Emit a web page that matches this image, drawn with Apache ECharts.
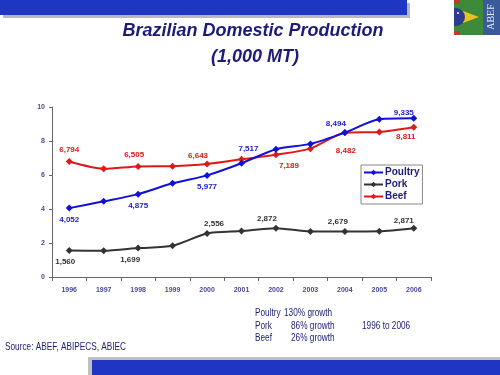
<!DOCTYPE html>
<html>
<head>
<meta charset="utf-8">
<script src="https://cdn.jsdelivr.net/npm/echarts@6/dist/echarts.min.js"></script>
<style>
  html, body { margin: 0; padding: 0; background: #fff; }
  #chart { width: 500px; height: 375px; }
</style>
</head>
<body>
<div id="chart"></div>
<script>
// production, 1,000 MT
var years = ['1996', '1997', '1998', '1999', '2000', '2001', '2002', '2003', '2004', '2005', '2006'];
var poultry = [4052, 4450, 4875, 5510, 5977, 6690, 7517, 7830, 8494, 9280, 9335];
var pork = [1560, 1540, 1699, 1840, 2556, 2700, 2872, 2680, 2679, 2690, 2871];
var beef = [6794, 6370, 6505, 6520, 6643, 6920, 7189, 7550, 8482, 8530, 8811];
var yTicks = [0, 2000, 4000, 6000, 8000, 10000];

var navy = '#1c1c78';
var tickColor = '#4a4a9a';

// which points get a value label, and where it sits
var poultryLabels = {
  0: {position: 'bottom'},
  2: {position: 'bottom'},
  4: {position: 'bottom'},
  6: {position: 'left', distance: 14},
  8: {position: 'top', offset: [-9, 3]},
  10: {position: 'top', offset: [-10, 6]}
};
var beefLabels = {
  0: {position: 'top'},
  2: {position: 'top', offset: [-4, 0]},
  4: {position: 'top', offset: [-9, 3]},
  6: {position: 'bottom', offset: [13, 0]},
  8: {position: 'bottom', offset: [1, 6]},
  10: {position: 'bottom', offset: [-8, -2]}
};
var porkLabels = {
  0: {position: 'bottom', offset: [-4, 0]},
  2: {position: 'bottom', offset: [-8, 0]},
  4: {position: 'top', offset: [7, 2]},
  6: {position: 'top', offset: [-9, 2]},
  8: {position: 'top', offset: [-7, 2]},
  10: {position: 'top', offset: [-10, 4]}
};

function fmt(v) {
  return v.toString().replace(/\B(?=(\d{3})+(?!\d))/g, ',');
}

function buildData(values, labels, color) {
  return values.map(function (v, i) {
    var item = {value: v};
    if (labels[i]) {
      item.label = Object.assign({
        show: true,
        color: color,
        fontSize: 8,
        fontWeight: 'bold',
        fontFamily: 'Liberation Sans, Arial',
        distance: 4,
        formatter: function (p) { return fmt(p.value); }
      }, labels[i]);
    }
    return item;
  });
}

function makeSeries(name, values, labels, color, labelColor) {
  return {
    name: name,
    type: 'line',
    smooth: 0.25,
    symbol: 'diamond',
    symbolSize: 7,
    lineStyle: {color: color, width: 2},
    itemStyle: {color: color},
    emphasis: {disabled: true},
    data: buildData(values, labels, labelColor),
    z: name === 'Poultry' ? 3 : 2
  };
}

// narrow-looking note text (the original uses a condensed face)
function note(text, x, y) {
  return {
    type: 'text', x: x, y: y, scaleX: 0.75, z: 5,
    style: {text: text, fill: navy, fontSize: 11, fontFamily: 'Liberation Sans, Arial', verticalAlign: 'middle'}
  };
}

var chart = echarts.init(document.getElementById('chart'), null, {renderer: 'canvas'});

var option = {
  animation: false,
  backgroundColor: '#ffffff',
  grid: {left: 52, right: 69, top: 107, bottom: 98},
  legend: {
    orient: 'vertical',
    left: 361,
    top: 165,
    itemWidth: 19,
    itemHeight: 7,
    itemGap: 1,
    padding: [2, 3, 2, 2],
    borderColor: '#888',
    borderWidth: 1,
    backgroundColor: '#fff',
    textStyle: {color: navy, fontSize: 10, lineHeight: 11, fontWeight: 'bold',
      fontFamily: 'Liberation Sans, Arial', padding: [0, 0, 0, -3]},
    data: ['Poultry', 'Pork', 'Beef']
  },
  xAxis: {
    type: 'category',
    data: years,
    boundaryGap: true,
    axisLine: {lineStyle: {color: '#666', width: 1}},
    axisTick: {show: true, length: 4, lineStyle: {color: '#666'}},
    axisLabel: {color: tickColor, fontSize: 7, fontWeight: 'bold', margin: 10, fontFamily: 'Liberation Sans, Arial'}
  },
  yAxis: {
    type: 'value',
    min: yTicks[0],
    max: yTicks[yTicks.length - 1],
    interval: yTicks[1] - yTicks[0],
    splitLine: {show: false},
    axisLine: {show: true, lineStyle: {color: '#666', width: 1}},
    axisTick: {show: true, length: 3, lineStyle: {color: '#666'}},
    axisLabel: {
      color: tickColor, fontSize: 7, fontWeight: 'bold', margin: 7, fontFamily: 'Liberation Sans, Arial',
      formatter: function (v) { return v / 1000; }
    }
  },
  series: [
    makeSeries('Poultry', poultry, poultryLabels, '#1010d8', '#1a1ad0'),
    makeSeries('Pork', pork, porkLabels, '#333333', '#333333'),
    makeSeries('Beef', beef, beefLabels, '#e01818', '#e01818')
  ],
  graphic: [
    // top banner with shadow
    {type: 'rect', shape: {x: 3, y: 3, width: 407, height: 15}, style: {fill: '#b8b8b8'}, z: 0},
    {type: 'rect', shape: {x: 0, y: 0, width: 407, height: 15}, style: {fill: '#1f35c4'}, z: 1},
    // bottom banner with shadow
    {type: 'rect', shape: {x: 88, y: 357, width: 412, height: 18}, style: {fill: '#c0c0c0'}, z: 0},
    {type: 'rect', shape: {x: 92, y: 360, width: 408, height: 15}, style: {fill: '#1f35c4'}, z: 1},
    // logo
    {type: 'rect', shape: {x: 454, y: 0, width: 29, height: 35}, style: {fill: '#3d8a3a'}, z: 1},
    {type: 'rect', shape: {x: 454, y: 0, width: 6, height: 4}, style: {fill: '#c23a2a'}, z: 2},
    {type: 'rect', shape: {x: 454, y: 31, width: 6, height: 4}, style: {fill: '#c23a2a'}, z: 2},
    {type: 'polygon', shape: {points: [[463, 11], [479, 17], [463, 23]]}, style: {fill: '#e8c020'}, z: 2},
    {type: 'circle', shape: {cx: 456, cy: 17, r: 9}, style: {fill: '#2d3c8c'}, z: 3,
      clipPath: {type: 'rect', shape: {x: 454, y: 0, width: 30, height: 35}}},
    {type: 'circle', shape: {cx: 458, cy: 13, r: 1}, style: {fill: '#ffffff'}, z: 4},
    {type: 'rect', shape: {x: 483, y: 0, width: 17, height: 35}, style: {fill: '#3a5a9a'}, z: 1},
    {type: 'text', x: 491, y: 17, rotation: Math.PI / 2, z: 2,
      style: {text: 'ABEF', fill: '#e8ecf4', fontSize: 10, fontFamily: 'Liberation Serif, serif', align: 'center', verticalAlign: 'middle'}},
    // title
    {type: 'text', x: 253, y: 31, z: 5,
      style: {text: 'Brazilian Domestic Production', fill: navy, fontSize: 18, fontWeight: 'bold', fontStyle: 'italic',
        fontFamily: 'Liberation Sans, Arial', align: 'center', verticalAlign: 'middle'}},
    {type: 'text', x: 255, y: 57, z: 5,
      style: {text: '(1,000 MT)', fill: navy, fontSize: 18, fontWeight: 'bold', fontStyle: 'italic',
        fontFamily: 'Liberation Sans, Arial', align: 'center', verticalAlign: 'middle'}},
    // growth notes
    note('Poultry', 255, 313),
    note('130% growth', 284, 313),
    note('Pork', 255, 326),
    note('86% growth', 291, 326),
    note('Beef', 255, 338),
    note('26% growth', 291, 338),
    note('1996 to 2006', 362, 326),
    note('Source: ABEF, ABIPECS, ABIEC', 5, 347)
  ]
};

chart.setOption(option);
</script>
</body>
</html>
